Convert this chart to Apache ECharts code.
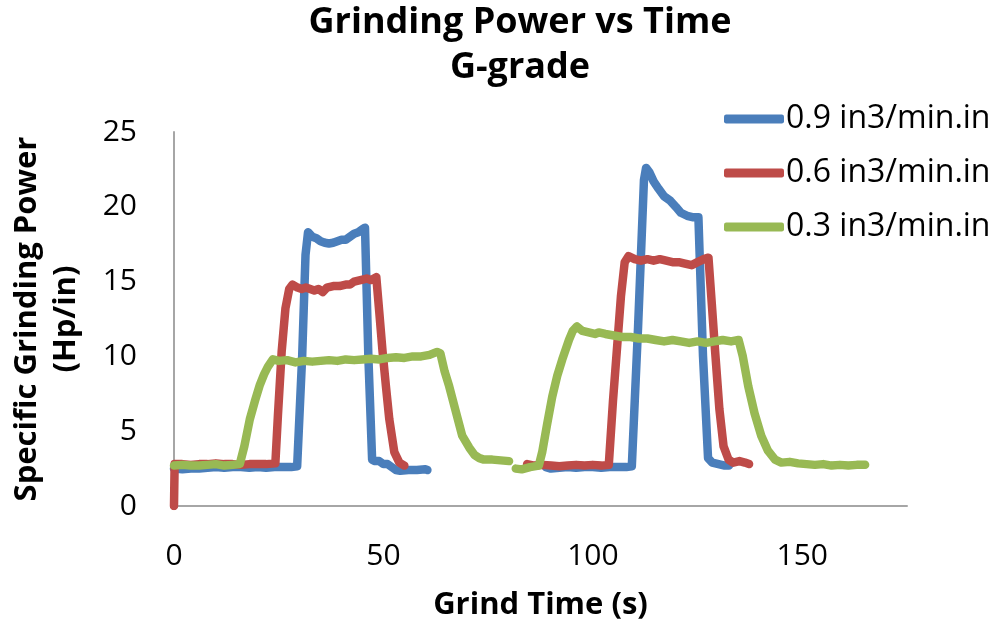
<!DOCTYPE html>
<html>
<head>
<meta charset="utf-8">
<title>Grinding Power vs Time</title>
<script src="https://cdn.jsdelivr.net/npm/echarts@6/dist/echarts.min.js"></script>
<style>
  html, body { margin: 0; padding: 0; background: #fff; }
  #container { width: 1001px; height: 626px; }
</style>
</head>
<body>
<div id="container"></div>
<script type="text/javascript">
// series names as in the legend
var seriesNames = ['0.9 in3/min.in', '0.6 in3/min.in', '0.3 in3/min.in'];
var seriesColors = ['#4A7EBB', '#BE4B48', '#98B954'];

// x ticks 0..175 step 50, y ticks 0..25 step 5
var xTicks = [0, 175, 50];
var yTicks = [0, 25, 5];

// [time (s), power (Hp/in)]; two runs per rate
var blueRun1 = [[0,2.5],[2,2.45],[4,2.5],[6,2.5],[8,2.55],[10,2.6],[12,2.55],[14,2.6],[16,2.6],[18,2.55],[20,2.6],[22,2.55],[24,2.6],[26,2.6],[28,2.6],[29.4,2.65],[30.6,10],[31.4,16.8],[32,18.3],[33,18.0],[34,17.9],[35,17.7],[36,17.6],[37,17.55],[38,17.6],[39,17.7],[40,17.8],[41,17.8],[42,18.0],[43,18.2],[44,18.3],[45,18.5],[45.6,18.6],[46.4,10],[47.3,3.1],[48,3.0],[49,3.0],[50,2.8],[51,2.8],[52,2.6],[53,2.4],[54,2.35],[56,2.4],[58,2.4],[60,2.45],[60.5,2.4]];
var blueRun2 = [[88.8,2.6],[90,2.5],[92,2.55],[94,2.6],[96,2.55],[98,2.6],[100,2.6],[102,2.55],[104,2.6],[106,2.6],[108,2.6],[109.3,2.65],[110.8,12],[112.2,21.8],[112.7,22.6],[113.5,22.3],[114.5,21.7],[115.7,21.2],[117,20.7],[118.5,20.4],[119.8,20.0],[121,19.6],[122.5,19.4],[124,19.3],[125.2,19.3],[126.3,10],[127.5,3.2],[128.5,2.9],[130,2.8],[131.5,2.7],[132.5,2.7]];

var redRun1 = [[0,0],[0.15,2.8],[2,2.8],[4,2.75],[6,2.8],[8,2.8],[10,2.85],[12,2.8],[14,2.8],[16,2.75],[18,2.8],[20,2.8],[22,2.8],[24.2,2.85],[24.8,6],[25.7,10.3],[26.6,13.2],[27.5,14.5],[28.3,14.8],[29.5,14.6],[30.5,14.5],[31.5,14.6],[32.5,14.5],[33.5,14.4],[34.5,14.5],[35.5,14.3],[36.5,14.6],[38,14.7],[39.5,14.7],[41,14.8],[42,14.8],[43,15.0],[44.5,15.1],[46,15.2],[47,15.1],[48.3,15.3],[49,13],[49.8,10.3],[50.6,8],[51.4,5.8],[52.6,3.6],[53.8,2.9],[55,2.7]];
var redRun2 = [[84.3,2.8],[86,2.7],[88,2.75],[90,2.7],[92,2.65],[94,2.7],[96,2.75],[98,2.7],[100,2.75],[102,2.7],[103.8,2.75],[104.8,7],[105.7,10.3],[106.7,14],[107.6,16.3],[108.5,16.7],[110,16.5],[111.5,16.4],[113,16.5],[114.5,16.4],[116,16.5],[117.5,16.4],[119,16.3],[120.5,16.3],[122,16.2],[123.6,16.1],[125,16.3],[126.5,16.5],[127.6,16.6],[128.4,13.5],[129.2,10.3],[130.2,6.5],[131.2,4.0],[132.4,3.1],[133.5,2.9],[135,3.0],[136.3,2.9],[137.3,2.8]];

var greenRun1 = [[0,2.7],[2,2.75],[4,2.7],[6,2.7],[8,2.75],[10,2.8],[12,2.7],[14,2.75],[15.7,2.8],[16.8,4],[18.1,5.8],[19.3,7],[20.5,8.1],[21.5,8.8],[22.4,9.3],[23.6,9.8],[25,9.7],[27,9.75],[29,9.6],[31,9.7],[33,9.65],[35,9.7],[37,9.75],[39,9.7],[41,9.8],[43,9.75],[45,9.8],[47,9.85],[49,9.8],[51,9.9],[53,9.95],[55,9.9],[57,10.0],[59,10.0],[61,10.1],[62.8,10.3],[63.6,10.2],[64.6,9],[65.7,8.0],[67.2,6.4],[68.8,4.7],[70.5,3.9],[71.8,3.4],[72.9,3.2],[74,3.1],[76,3.1],[78,3.05],[80,3.0]];
var greenRun2 = [[81.6,2.5],[83,2.45],[85,2.6],[87.1,2.7],[87.9,3.6],[89.1,5.5],[90.3,7.3],[91.5,8.7],[92.7,9.8],[94.3,11.1],[95.2,11.7],[96.2,12.0],[97.5,11.7],[99,11.6],[100.5,11.5],[101.4,11.6],[103,11.5],[105,11.4],[107,11.3],[109,11.3],[111,11.2],[113,11.2],[115,11.1],[117,11.0],[119,11.1],[121,11.0],[123,10.9],[125,11.0],[127,10.9],[129,11.0],[131,11.1],[133,11.0],[134.8,11.1],[135.8,10],[137.1,8.0],[138.6,6.2],[140.2,4.7],[141.8,3.7],[143.5,3.1],[145,2.9],[147,2.95],[149,2.85],[151,2.8],[153,2.75],[155,2.8],[157,2.7],[159,2.75],[161,2.7],[163,2.75],[165,2.75]];

function joinRuns(a, b) {
	// break the line between the two runs
	return a.concat([[(a[a.length - 1][0] + b[0][0]) / 2, '-']], b);
}
var seriesData = [joinRuns(blueRun1, blueRun2), joinRuns(redRun1, redRun2), joinRuns(greenRun1, greenRun2)];

var font = '"Open Sans", "Liberation Sans", sans-serif';

var series = [];
for (var i = 0; i < seriesNames.length; i++) {
	series.push({
		name: seriesNames[i],
		type: 'line',
		data: seriesData[i],
		showSymbol: false,
		symbol: 'none',
		connectNulls: false,
		lineStyle: { color: seriesColors[i], width: 8.5, cap: 'round', join: 'round' },
		itemStyle: { color: seriesColors[i] }
	});
}

var myChart = echarts.init(document.getElementById('container'));
myChart.setOption({
	animation: false,
	textStyle: { fontFamily: font },
	title: {
		text: 'Grinding Power vs Time\nG-grade',
		left: 520,
		top: 0,
		padding: 0,
		textAlign: 'center',
		textStyle: { fontFamily: font, fontSize: 36, fontWeight: 'bold', lineHeight: 45, color: '#000' }
	},
	legend: {
		orient: 'vertical',
		left: 719,
		top: 98,
		padding: 5,
		itemWidth: 60,
		itemHeight: 9,
		itemGap: 22,
		icon: 'roundRect',
		data: seriesNames,
		textStyle: { fontFamily: font, fontSize: 32, lineHeight: 32, color: '#000', padding: [0, 0, 0, -3] }
	},
	grid: { left: 174, right: 94, top: 132, bottom: 119, containLabel: false },
	xAxis: {
		type: 'value',
		min: xTicks[0], max: xTicks[1], interval: xTicks[2],
		name: 'Grind Time (s)',
		nameLocation: 'middle',
		nameGap: 84,
		nameTextStyle: { fontFamily: font, fontSize: 31, fontWeight: 'bold', color: '#000', verticalAlign: 'top' },
		axisLine: { lineStyle: { color: '#A6A6A6', width: 2 } },
		axisTick: { show: false },
		splitLine: { show: false },
		axisLabel: { fontFamily: font, fontSize: 30, color: '#000', margin: 35, showMaxLabel: false }
	},
	yAxis: {
		type: 'value',
		min: yTicks[0], max: yTicks[1], interval: yTicks[2],
		name: 'Specific Grinding Power\n(Hp/in)',
		nameLocation: 'middle',
		nameRotate: 90,
		nameGap: 88,
		nameTextStyle: { fontFamily: font, fontSize: 31, fontWeight: 'bold', color: '#000', lineHeight: 39 },
		axisLine: { show: true, lineStyle: { color: '#A6A6A6', width: 2 } },
		axisTick: { show: false },
		splitLine: { show: false },
		axisLabel: { fontFamily: font, fontSize: 30, color: '#000', margin: 37 }
	},
	series: series
});
</script>
</body>
</html>
